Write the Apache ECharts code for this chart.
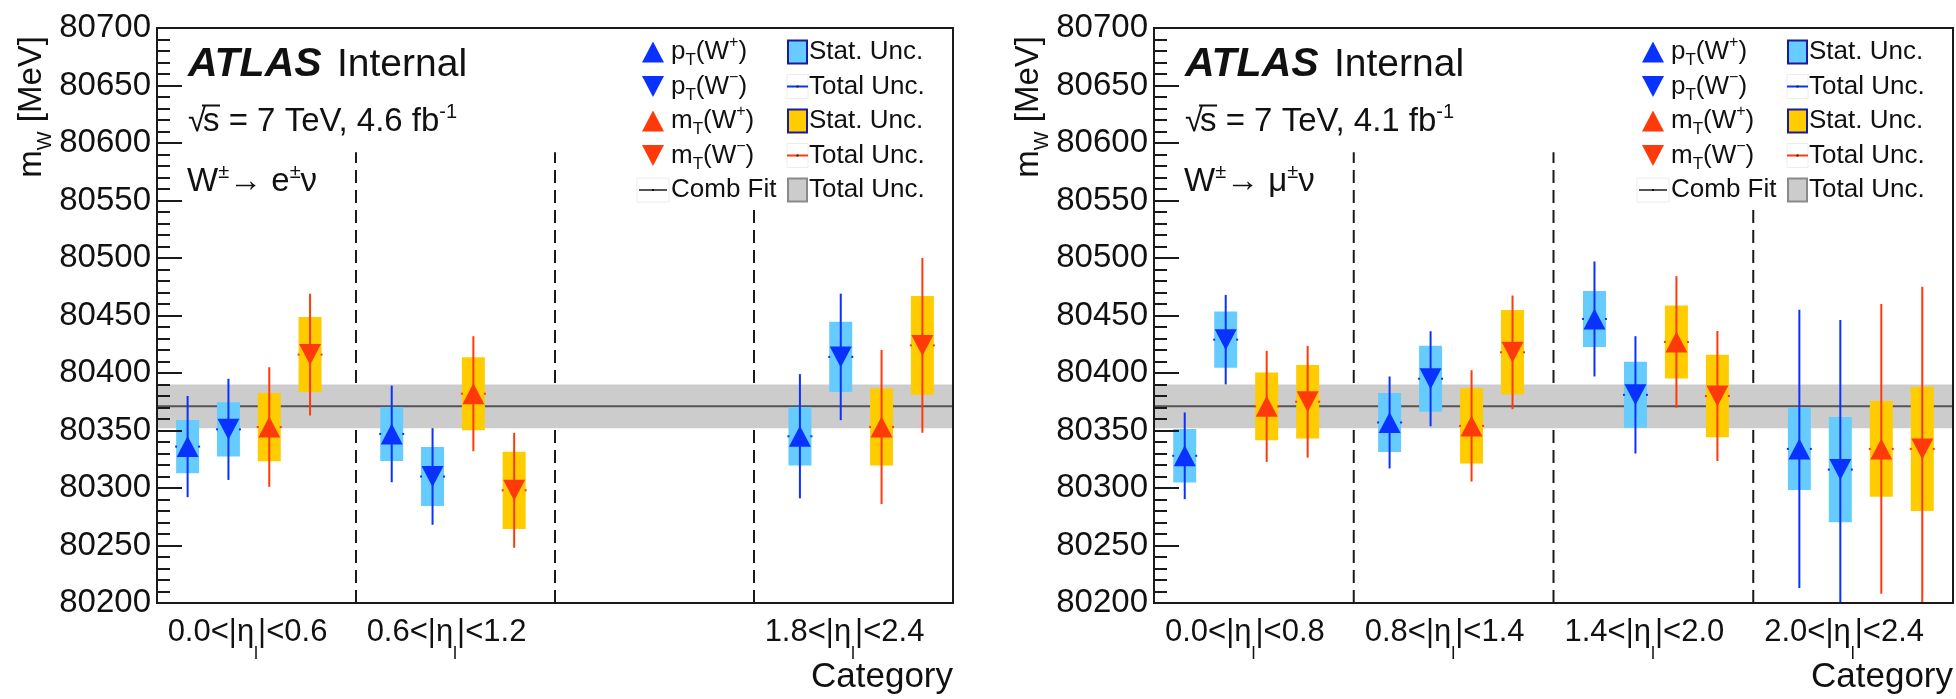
<!DOCTYPE html>
<html>
<head>
<meta charset="utf-8">
<script src="https://cdn.jsdelivr.net/npm/echarts@6/dist/echarts.min.js"></script>
<style>
  html, body { margin: 0; padding: 0; background: #fff; }
  #chart { width: 1956px; height: 699px; }
</style>
</head>
<body>
<div id="chart"></div>
<script>
// ---------------- data ----------------
// |eta| categories of the two channels (the electron channel has no 1.2-1.8 bin)
const etaBinsEl = ['0.0<|η|<0.6', '0.6<|η|<1.2', '', '1.8<|η|<2.4'];
const etaBinsMu = ['0.0<|η|<0.8', '0.8<|η|<1.4', '1.4<|η|<2.0', '2.0<|η|<2.4'];

// m_W [MeV] per category, with statistical and total uncertainties
// electron channel
const elPtWpVal  = [80336, 80347, null, 80345];
const elPtWpStat = [23.2, 23.5, null, 25.4];
const elPtWpTot  = [44, 42, null, 54];
const elPtWmVal  = [80351, 80310, null, 80414];
const elPtWmStat = [23.5, 25.7, null, 30.6];
const elPtWmTot  = [44, 42, null, 55];
const elMtWpVal  = [80353, 80382, null, 80353];
const elMtWpStat = [29.7, 31.7, null, 33.5];
const elMtWpTot  = [52, 50, null, 67];
const elMtWmVal  = [80416, 80298, null, 80424];
const elMtWmStat = [32.6, 33.6, null, 43];
const elMtWmTot  = [53, 50, null, 76];
// muon channel
const muPtWpVal  = [80328, 80357, 80447, 80334];
const muPtWpStat = [23.3, 25.7, 24.3, 35.8];
const muPtWpTot  = [37.7, 40, 50, 121];
const muPtWmVal  = [80429, 80395, 80381, 80316];
const muPtWmStat = [24.5, 28.8, 28.7, 45.8];
const muPtWmTot  = [38.9, 41.3, 51, 130];
const muMtWpVal  = [80371, 80354, 80427, 80334];
const muMtWpStat = [29.4, 32.8, 31.7, 41.7];
const muMtWpTot  = [48.3, 48.4, 57.2, 126];
const muMtWmVal  = [80375, 80418, 80380, 80334];
const muMtWmStat = [31.9, 36.8, 35.9, 54];
const muMtWmTot  = [48.6, 49.4, 56.5, 141];

// combined fit
const combFitVal = 80371;
const combFitUnc = 19;

// y axis
const yMin = 80200, yMax = 80700, yStep = 50;

// ---------------- layout / style ----------------
const FONT = "'Liberation Sans', Arial, Helvetica, sans-serif";
const INK = '#111';
const BLUE = '#0a32ff', RED = '#ff3a0a';
const BLUE_BOX = '#66ccff', YELLOW_BOX = '#ffcc00';
const BAND = '#cccccc', FIT_LINE = '#555555';
const X_MIN = -0.75, X_MAX = 18.75;      // 4 bins, each 4 measurement slots + gap
const SLOTS_PER_BIN = 5;
const BOX_HALF = 11.5;                    // half width of the stat. boxes [px]
const DIVIDER_TOPS = [80592, 80592, 80544];
const GRIDS = [
  { left: 157, top: 28, width: 796, height: 575 },
  { left: 1154, top: 28, width: 799, height: 575 }
];

const observables = [
  { name: 'pT(W+)', color: BLUE, box: BLUE_BOX, down: false },
  { name: 'pT(W-)', color: BLUE, box: BLUE_BOX, down: true },
  { name: 'mT(W+)', color: RED, box: YELLOW_BOX, down: false },
  { name: 'mT(W-)', color: RED, box: YELLOW_BOX, down: true }
];
const panels = [
  { cats: etaBinsEl, lumi: '4.6', lepton: 'e',
    obs: [[elPtWpVal, elPtWpStat, elPtWpTot], [elPtWmVal, elPtWmStat, elPtWmTot],
          [elMtWpVal, elMtWpStat, elMtWpTot], [elMtWmVal, elMtWmStat, elMtWmTot]] },
  { cats: etaBinsMu, lumi: '4.1', lepton: 'μ',
    obs: [[muPtWpVal, muPtWpStat, muPtWpTot], [muPtWmVal, muPtWmStat, muPtWmTot],
          [muMtWpVal, muMtWpStat, muMtWpTot], [muMtWmVal, muMtWmStat, muMtWmTot]] }
];

// ---------------- render helpers ----------------
function errorBarRenderer(color, boxColor) {
  return function (params, api) {
    const x = api.value(0), v = api.value(1), st = api.value(2), tot = api.value(3);
    const c = api.coord([x, v]);
    const sTop = api.coord([x, v + st])[1], sBot = api.coord([x, v - st])[1];
    const tTop = api.coord([x, v + tot])[1], tBot = api.coord([x, v - tot])[1];
    return {
      type: 'group',
      children: [
        { type: 'rect', shape: { x: c[0] - BOX_HALF, y: sTop, width: 2 * BOX_HALF, height: sBot - sTop },
          style: { fill: boxColor } },
        { type: 'line', shape: { x1: c[0], y1: tTop, x2: c[0], y2: tBot },
          style: { stroke: color, lineWidth: 2 } },
        { type: 'rect', shape: { x: c[0] - BOX_HALF - 1, y: c[1] - 1, width: 2, height: 2 }, style: { fill: color } },
        { type: 'rect', shape: { x: c[0] + BOX_HALF - 1, y: c[1] - 1, width: 2, height: 2 }, style: { fill: color } }
      ]
    };
  };
}

function dividerRenderer(params, api) {
  const x = api.value(0);
  const p0 = api.coord([x, yMin]);
  const p1 = api.coord([x, api.value(1)]);
  return { type: 'line', shape: { x1: p0[0], y1: p0[1], x2: p1[0], y2: p1[1] },
           style: { stroke: '#1a1a1a', lineWidth: 2, lineDash: [13, 7] } };
}

function bandRenderer(params, api) {
  const cs = params.coordSys;
  const v = api.value(0), u = api.value(1);
  const yTop = api.coord([X_MIN, v + u])[1];
  const yBot = api.coord([X_MIN, v - u])[1];
  const yC = api.coord([X_MIN, v])[1];
  return {
    type: 'group',
    children: [
      { type: 'rect', shape: { x: cs.x, y: yTop, width: cs.width, height: yBot - yTop }, style: { fill: BAND } },
      { type: 'line', shape: { x1: cs.x, y1: yC, x2: cs.x + cs.width, y2: yC },
        style: { stroke: FIT_LINE, lineWidth: 2 } }
    ]
  };
}

// ---------------- axes ----------------
const xAxes = [], yAxes = [], series = [];

panels.forEach((panel, p) => {
  xAxes.push({
    type: 'value', gridIndex: p, min: X_MIN, max: X_MAX, position: 'bottom',
    axisLine: { show: true, onZero: false, lineStyle: { color: '#1a1a1a', width: 2 } },
    axisTick: { show: false }, axisLabel: { show: false }, splitLine: { show: false }
  });
  xAxes.push({
    type: 'category', gridIndex: p, data: panel.cats, position: 'bottom',
    axisLine: { show: false, onZero: false }, axisTick: { show: false }, splitLine: { show: false },
    axisLabel: {
      interval: 0, margin: -2, color: INK, fontFamily: FONT, fontSize: 31, lineHeight: 62,
      padding: [0, 18, 0, 0],
      formatter: (s) => s.replace('η', 'η{sub|l}'),
      rich: { sub: { fontSize: 18, lineHeight: 18, verticalAlign: 'bottom', fontFamily: FONT, color: INK } }
    }
  });
  yAxes.push({
    type: 'value', gridIndex: p, min: yMin, max: yMax, interval: yStep, z: 10, position: 'left',
    axisLine: { show: true, onZero: false, lineStyle: { color: '#1a1a1a', width: 2 } },
    axisTick: { show: true, inside: true, length: 25, lineStyle: { color: '#1a1a1a', width: 2 } },
    minorTick: { show: true, splitNumber: 5, length: 13, lineStyle: { color: '#1a1a1a', width: 2 } },
    splitLine: { show: false }, minorSplitLine: { show: false },
    axisLabel: { color: INK, fontFamily: FONT, fontSize: 33, margin: 6,
                 showMinLabel: true, showMaxLabel: true, formatter: (v) => String(v) }
  });

  const xi = p * 2;
  // bin dividers
  const binW = (X_MAX - X_MIN) / 4;
  series.push({
    type: 'custom', xAxisIndex: xi, yAxisIndex: p, z: 1, clip: true, silent: true,
    renderItem: dividerRenderer,
    data: DIVIDER_TOPS.map((t, k) => [X_MIN + (k + 1) * binW, t])
  });
  // combined fit band
  series.push({
    type: 'custom', xAxisIndex: xi, yAxisIndex: p, z: 2, clip: true, silent: true,
    renderItem: bandRenderer, data: [[combFitVal, combFitUnc]]
  });
  // measurements
  panel.obs.forEach((arrs, j) => {
    const o = observables[j];
    const [vals, stats, tots] = arrs;
    const pts = [];
    vals.forEach((v, c) => {
      if (v == null) return;
      pts.push([c * SLOTS_PER_BIN + j, v, stats[c], tots[c]]);
    });
    series.push({
      type: 'custom', name: o.name, xAxisIndex: xi, yAxisIndex: p, z: 3, clip: true, silent: true,
      renderItem: errorBarRenderer(o.color, o.box), data: pts
    });
    series.push({
      type: 'scatter', name: o.name, xAxisIndex: xi, yAxisIndex: p, z: 4, silent: true,
      symbol: 'triangle', symbolSize: [22, 21], symbolRotate: o.down ? 180 : 0,
      itemStyle: { color: o.color, opacity: 1 },
      data: pts.map((d) => [d[0], d[1]])
    });
  });
});

// ---------------- texts & legend ----------------
const graphics = [];
function text(x, y, str, size, extra) {
  const style = Object.assign({ text: str, fontSize: size, fontFamily: FONT, fill: INK,
                                align: 'left', verticalAlign: 'middle' }, extra || {});
  return { type: 'text', x: x, y: y, z: 50, silent: true, style: style };
}
function sup(size) { return { fontSize: size, lineHeight: size, verticalAlign: 'top', fontFamily: FONT, fill: INK }; }
function sub(size) { return { fontSize: size, lineHeight: size, verticalAlign: 'bottom', fontFamily: FONT, fill: INK }; }

const legendRows = [52, 86.5, 121, 155.5, 190];
const legendLabels = ['p{s|T}(W{u|+})', 'p{s|T}(W{u|−})', 'm{s|T}(W{u|+})', 'm{s|T}(W{u|−})', 'Comb Fit'];

panels.forEach((panel, p) => {
  const g = GRIDS[p];
  const G = g.left, R = g.left + g.width;

  // y title
  graphics.push({
    type: 'text', x: G - 125, y: g.top + 8, rotation: Math.PI / 2, z: 50, silent: true,
    style: { text: 'm{s|W} [MeV]', fontSize: 33, lineHeight: 46, fontFamily: FONT, fill: INK,
             align: 'right', verticalAlign: 'middle', rich: { s: sub(20) } }
  });
  // x title
  graphics.push(text(R, 677, 'Category', 35, { align: 'right' }));

  // ATLAS label
  graphics.push(text(G + 31, 65, 'ATLAS', 41, { fontWeight: 'bold', fontStyle: 'italic' }));
  graphics.push(text(G + 180, 65, 'Internal', 39));
  graphics.push(text(G + 31, 122, '√', 33));
  graphics.push({ type: 'line', z: 50, silent: true,
                  shape: { x1: G + 45, y1: 105.5, x2: G + 63, y2: 105.5 }, style: { stroke: INK, lineWidth: 2 } });
  graphics.push(text(G + 46, 122, 's = 7 TeV, ' + panel.lumi + ' fb{u|-1}', 33,
                     { lineHeight: 40, rich: { u: sup(20) } }));
  graphics.push(text(G + 30, 182, 'W{u|±}→ ' + panel.lepton + '{u|±}ν', 33,
                     { lineHeight: 40, rich: { u: sup(20) } }));

  // legend, first column: markers
  observables.forEach((o, j) => {
    const cx = R - 300, cy = legendRows[j];
    const pts = o.down
      ? [[cx - 11, cy - 10.5], [cx + 11, cy - 10.5], [cx, cy + 10.5]]
      : [[cx - 11, cy + 10.5], [cx + 11, cy + 10.5], [cx, cy - 10.5]];
    graphics.push({ type: 'polygon', z: 50, silent: true, shape: { points: pts }, style: { fill: o.color } });
  });
  // comb fit line symbol
  graphics.push({ type: 'rect', z: 49, silent: true, shape: { x: R - 316, y: legendRows[4] - 12, width: 32, height: 24 },
                  style: { fill: 'none', stroke: '#ececec', lineWidth: 1 } });
  graphics.push({ type: 'line', z: 50, silent: true,
                  shape: { x1: R - 314, y1: legendRows[4], x2: R - 286, y2: legendRows[4] },
                  style: { stroke: FIT_LINE, lineWidth: 2 } });
  graphics.push({ type: 'rect', z: 51, silent: true, shape: { x: R - 301, y: legendRows[4] - 1, width: 2, height: 2 },
                  style: { fill: '#111' } });
  legendLabels.forEach((lab, j) => {
    graphics.push(text(R - 282, legendRows[j], lab, 26,
                       { lineHeight: 34, rich: { s: sub(17), u: sup(16) } }));
  });

  // legend, second column
  const col2 = [
    { kind: 'box', fill: BLUE_BOX, stroke: '#1a1aa0', label: 'Stat. Unc.' },
    { kind: 'line', color: BLUE, label: 'Total Unc.' },
    { kind: 'box', fill: YELLOW_BOX, stroke: '#1a1aa0', label: 'Stat. Unc.' },
    { kind: 'line', color: RED, label: 'Total Unc.' },
    { kind: 'box', fill: BAND, stroke: '#8a8a8a', label: 'Total Unc.' }
  ];
  col2.forEach((e, j) => {
    const cy = legendRows[j];
    if (e.kind === 'box') {
      graphics.push({ type: 'rect', z: 50, silent: true,
                      shape: { x: R - 165, y: cy - 11.5, width: 19, height: 23 },
                      style: { fill: e.fill, stroke: e.stroke, lineWidth: 2 } });
    } else {
      graphics.push({ type: 'rect', z: 49, silent: true, shape: { x: R - 166, y: cy - 12, width: 21, height: 24 },
                      style: { fill: 'none', stroke: '#ececec', lineWidth: 1 } });
      graphics.push({ type: 'line', z: 50, silent: true,
                      shape: { x1: R - 166, y1: cy, x2: R - 145, y2: cy },
                      style: { stroke: e.color, lineWidth: 2 } });
      graphics.push({ type: 'rect', z: 51, silent: true, shape: { x: R - 156.5, y: cy - 1, width: 2, height: 2 },
                      style: { fill: '#222' } });
    }
    graphics.push(text(R - 144, cy, e.label, 26));
  });
});

// ---------------- chart ----------------
const chart = echarts.init(document.getElementById('chart'), null, { renderer: 'canvas' });
chart.setOption({
  backgroundColor: '#ffffff',
  animation: false,
  grid: GRIDS.map((g) => Object.assign({ show: true, borderColor: '#1a1a1a', borderWidth: 2, z: 10,
                                         backgroundColor: 'transparent', containLabel: false,
                                         outerBoundsMode: 'none' }, g)),
  xAxis: xAxes,
  yAxis: yAxes,
  series: series,
  graphic: { elements: graphics }
});
</script>
</body>
</html>
